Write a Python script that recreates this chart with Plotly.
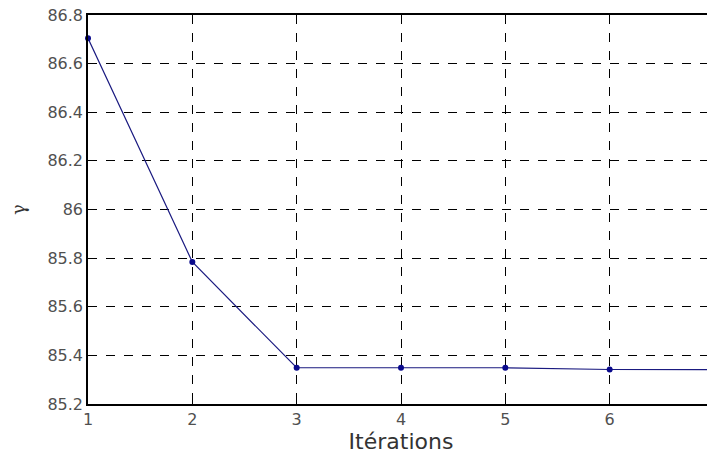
import plotly.graph_objects as go

iterations = [1, 2, 3, 4, 5, 6, 7]
gamma = [86.704, 85.784, 85.349, 85.349, 85.349, 85.342, 85.341]
y_ticks = [85.2, 85.4, 85.6, 85.8, 86.0, 86.2, 86.4, 86.6, 86.8]
y_tick_labels = ["85.2", "85.4", "85.6", "85.8", "86", "86.2", "86.4", "86.6", "86.8"]
x_ticks = [1, 2, 3, 4, 5, 6, 7]

fig = go.Figure()
fig.add_trace(go.Scatter(
    x=iterations, y=gamma, mode="lines+markers",
    line=dict(color="#1a1a80", width=1.2),
    marker=dict(color="#0a0a8c", size=6),
    cliponaxis=False, showlegend=False,
))

tick_font = dict(family="DejaVu Sans, Verdana, sans-serif", size=16, color="#505050")
axis_common = dict(
    showgrid=True, gridcolor="black", griddash="dash", gridwidth=1,
    showline=True, linecolor="black", linewidth=1.5, mirror="ticks",
    ticks="inside", ticklen=4, tickcolor="black",
    tickfont=tick_font, automargin=False, ticklabeloverflow="allow",
    zeroline=False,
)

# the page body has an 8px default margin, so margins are reduced by 8
fig.update_layout(
    width=707, height=464,
    margin=dict(l=80, r=1, t=7, b=68),
    paper_bgcolor="white", plot_bgcolor="white",
    xaxis=dict(range=[1, 7], tickvals=x_ticks,
               title=dict(text="Itérations", standoff=2,
                          font=dict(family="DejaVu Sans, Verdana, sans-serif", size=22, color="#333333")),
               **axis_common),
    yaxis=dict(range=[85.2, 86.8], tickvals=y_ticks, ticktext=y_tick_labels,
               title=dict(text="γ", standoff=18,
                          font=dict(family="DejaVu Serif, serif", size=18, color="#333333")),
               **axis_common),
)

fig.write_html("out.html")
